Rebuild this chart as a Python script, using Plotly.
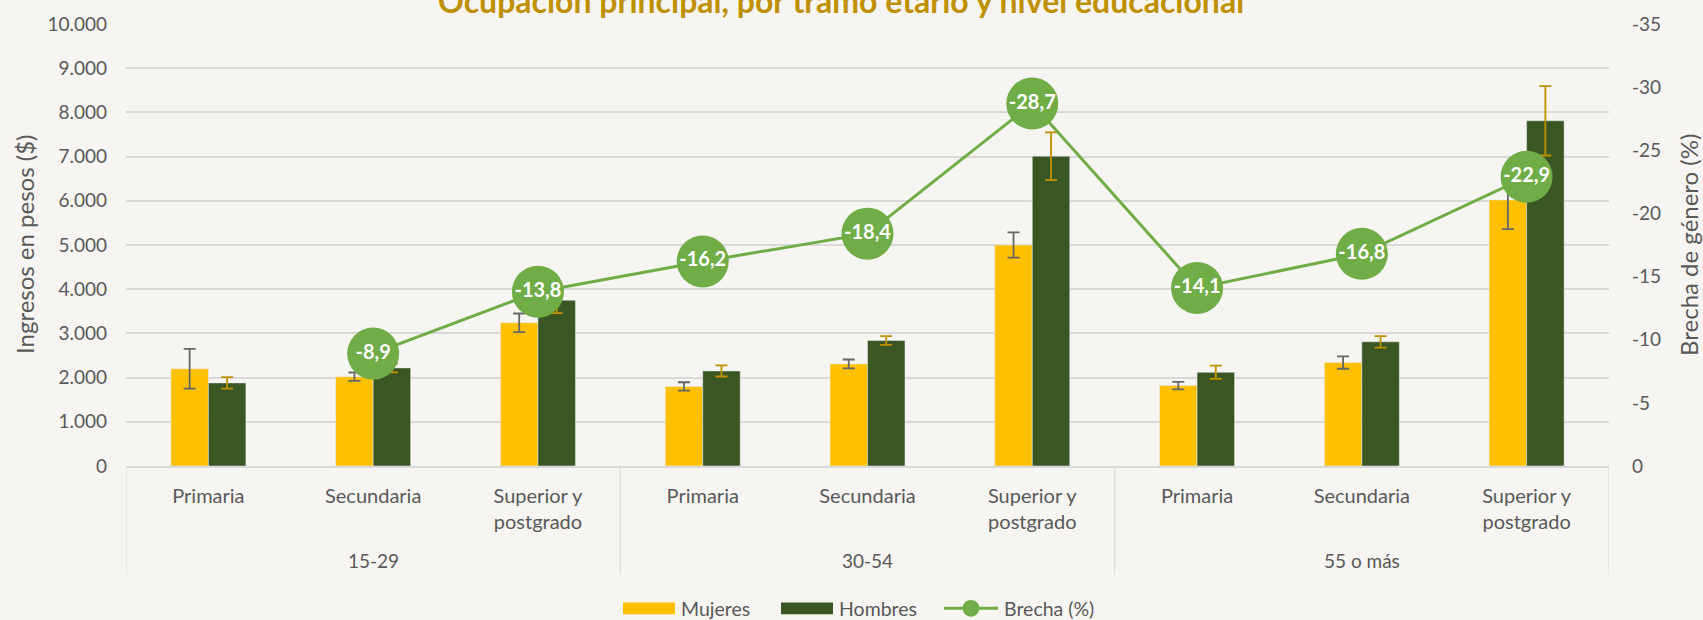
import plotly.graph_objects as go

# ---------------- data ----------------
niveles = ["Primaria", "Secundaria", "Superior y<br>postgrado"] * 3
tramos = ["15-29", "30-54", "55 o más"]
mujeres = [2200, 2020, 3240, 1800, 2310, 5000, 1820, 2340, 6020]
mujeres_err = [450, 95, 210, 95, 100, 285, 85, 140, 660]
hombres = [1880, 2220, 3750, 2150, 2840, 7010, 2120, 2810, 7810]
hombres_err = [130, 100, 290, 125, 100, 540, 150, 130, 785]
brecha = [None, -8.9, -13.8, -16.2, -18.4, -28.7, -14.1, -16.8, -22.9]

y_ticks = [0, 1000, 2000, 3000, 4000, 5000, 6000, 7000, 8000, 9000, 10000]
y_ticktext = ["0", "1.000", "2.000", "3.000", "4.000", "5.000", "6.000",
              "7.000", "8.000", "9.000", "10.000"]
y2_ticks = [0, -5, -10, -15, -20, -25, -30, -35]
y2_ticktext = ["0", "-5", "-10", "-15", "-20", "-25", "-30", "-35"]

title = "Ocupación principal, por tramo etario y nivel educacional"
legend_names = ["Mujeres", "Hombres", "Brecha (%)"]

# ---------------- styling ----------------
W, H = 1703, 620
ML, MR, MT, MB = 126, 94, 22, 154
PW, PH = W - ML - MR, H - MT - MB
FONT = "Lato"
TXT = "#595959"
BG = "#F6F5F1"
GRID = "#D9D9D9"
C_M = "#FFC000"
C_H = "#3A5723"
C_B = "#70AD47"
C_T = "#BF9000"


def xp(px):
    return (px - ML) / PW


def yp(py):
    return (MT + PH - py) / PH


x = list(range(len(niveles)))
brecha_text = [("" if v is None else f"{v:.1f}".replace(".", ",")) for v in brecha]

fig = go.Figure()
fig.add_trace(go.Bar(
    x=x, y=mujeres, name=legend_names[0], marker_color=C_M,
    error_y=dict(type="data", array=mujeres_err, color="#666666",
                 thickness=1.8, width=6),
))
fig.add_trace(go.Bar(
    x=x, y=hombres, name=legend_names[1], marker_color=C_H,
    error_y=dict(type="data", array=hombres_err, color="#BF9000",
                 thickness=1.8, width=6),
))
fig.add_trace(go.Scatter(
    x=x, y=brecha, name=legend_names[2], yaxis="y2",
    mode="lines+markers+text", connectgaps=False,
    line=dict(color=C_B, width=3),
    marker=dict(color=C_B, size=52),
    text=brecha_text, textposition="middle center",
    textfont=dict(family=FONT, size=20, color="white", weight="bold"),
))

fig.update_layout(
    width=W, height=H,
    margin=dict(l=ML, r=MR, t=MT, b=MB),
    paper_bgcolor=BG, plot_bgcolor=BG,
    showlegend=False,
    barmode="group", bargap=0.545, bargroupgap=0,
    font=dict(family=FONT, color=TXT, size=18),
    xaxis=dict(
        range=[-0.5, len(niveles) - 0.5],
        tickvals=x, ticktext=niveles,
        tickfont=dict(size=20, color=TXT),
        showgrid=False, zeroline=False,
        showline=True, linecolor=GRID, linewidth=2,
        ticks="", ticklabelstandoff=11,
    ),
    yaxis=dict(
        range=[0, 10000], tickvals=y_ticks, ticktext=y_ticktext,
        tickfont=dict(size=19, color=TXT),
        showgrid=True, gridcolor=GRID, gridwidth=1.6,
        zeroline=False, showline=False, ticks="",
        ticklabelstandoff=18,
    ),
    yaxis2=dict(
        overlaying="y", side="right",
        range=[0, -35], tickvals=y2_ticks, ticktext=y2_ticktext,
        tickfont=dict(size=19, color=TXT),
        showgrid=False, zeroline=False, showline=False, ticks="",
        ticklabelstandoff=22,
    ),
)

shapes = []
# category group dividers
for bx in [-0.5, 2.5, 5.5, len(niveles) - 0.5]:
    shapes.append(dict(type="line", xref="x", yref="paper",
                       x0=bx, x1=bx, y0=0, y1=yp(575),
                       line=dict(color=GRID, width=1)))

annotations = []
# group labels
for i, t in enumerate(tramos):
    annotations.append(dict(text=t, xref="x", yref="paper",
                            x=3 * i + 1, y=yp(561), showarrow=False,
                            xanchor="center", yanchor="middle",
                            font=dict(size=19, color=TXT)))
# axis titles
annotations.append(dict(text="Ingresos en pesos ($)", xref="paper", yref="paper",
                        x=xp(24), y=0.5, textangle=-90, showarrow=False,
                        xanchor="center", yanchor="middle",
                        font=dict(size=24, color=TXT)))
annotations.append(dict(text="Brecha de género (%)", xref="paper", yref="paper",
                        x=xp(1688), y=0.5, textangle=-90, showarrow=False,
                        xanchor="center", yanchor="middle",
                        font=dict(size=24, color=TXT)))
# title (cut at top like reference)
annotations.append(dict(text="<b>" + title + "</b>", xref="paper", yref="paper",
                        x=xp(841), y=yp(-2), showarrow=False,
                        xanchor="center", yanchor="middle",
                        font=dict(size=32, color=C_T)))

# custom legend
ly = 609
LF = 19.5
shapes.append(dict(type="rect", xref="paper", yref="paper",
                   x0=xp(623), x1=xp(675), y0=yp(615), y1=yp(603),
                   fillcolor=C_M, line=dict(width=0)))
annotations.append(dict(text=legend_names[0], xref="paper", yref="paper",
                        x=xp(679), y=yp(ly), showarrow=False,
                        xanchor="left", yanchor="middle",
                        font=dict(size=LF, color=TXT)))
shapes.append(dict(type="rect", xref="paper", yref="paper",
                   x0=xp(781), x1=xp(833), y0=yp(615), y1=yp(603),
                   fillcolor=C_H, line=dict(width=0)))
annotations.append(dict(text=legend_names[1], xref="paper", yref="paper",
                        x=xp(837), y=yp(ly), showarrow=False,
                        xanchor="left", yanchor="middle",
                        font=dict(size=LF, color=TXT)))
shapes.append(dict(type="line", xref="paper", yref="paper",
                   x0=xp(944), x1=xp(998), y0=yp(609), y1=yp(609),
                   line=dict(color=C_B, width=3)))
shapes.append(dict(type="circle", xref="paper", yref="paper",
                   x0=xp(962.5), x1=xp(979.5), y0=yp(617.5), y1=yp(600.5),
                   fillcolor=C_B, line=dict(width=0)))
annotations.append(dict(text=legend_names[2], xref="paper", yref="paper",
                        x=xp(1002), y=yp(ly), showarrow=False,
                        xanchor="left", yanchor="middle",
                        font=dict(size=LF, color=TXT)))

fig.update_layout(shapes=shapes, annotations=annotations)
fig.write_html(
    "out.html",
    config={"displayModeBar": False},
    post_script="document.body.style.margin='0';document.body.style.overflow='hidden';",
)
